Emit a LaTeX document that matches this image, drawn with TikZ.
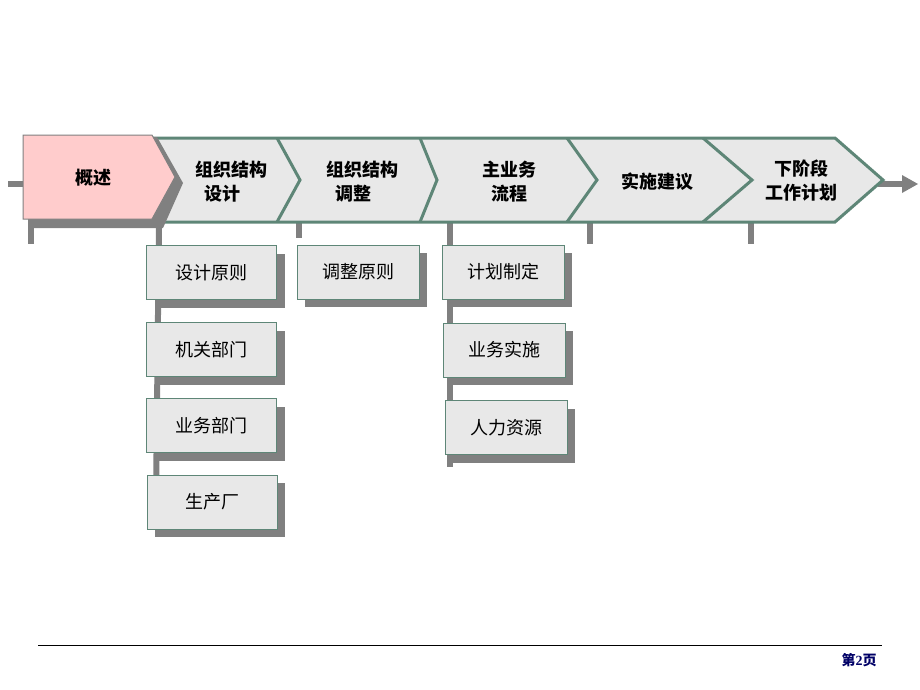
\documentclass[tikz,border=0pt]{standalone}
\usepackage{fontspec}
\setmainfont{Liberation Serif}
\newfontfamily\cjk{Noto Sans CJK SC}
\usetikzlibrary{calc,shadows}
\definecolor{bandfill}{HTML}{E8E8E8}
\definecolor{bandline}{HTML}{5E8677}
\definecolor{shadowgray}{HTML}{808080}
\definecolor{pinkfill}{HTML}{FFCCCC}
\definecolor{navy}{HTML}{000066}
\begin{document}
\begin{tikzpicture}[x=1pt,y=-1pt,
  tick/.style={draw=shadowgray, line width=6pt},
  bandstyle/.style={fill=bandfill, draw=bandline, line width=3pt, line join=miter},
  sepline/.style={draw=bandline, line width=3pt},
  headtext/.style={font=\cjk\bfseries\fontsize{18}{24}\selectfont, align=center, inner sep=0pt},
  subbox/.style={draw=bandline, line width=1pt, fill=bandfill, minimum width=130pt,
    minimum height=54pt, inner sep=0pt, font=\cjk\fontsize{18}{20}\selectfont,
    general shadow={fill=shadowgray, shadow xshift=8pt, shadow yshift=-8pt}},
  subboxb/.style={subbox, minimum width=122pt}]
\useasboundingbox (0,0) rectangle (920,690);

% named coordinates for axis and ticks
\coordinate (L0) at (8,184);
\coordinate (L1) at (24,184);
\coordinate (R0) at (878,184);
\coordinate (R1) at (903,184);
\coordinate (RH1) at (902,175);
\coordinate (RH2) at (918,184);
\coordinate (RH3) at (902,193);
\coordinate (T1a) at (299,222); \coordinate (T1b) at (299,238);
\coordinate (T2a) at (450,222); \coordinate (T2b) at (450,467);
\coordinate (T3a) at (590,222); \coordinate (T3b) at (590,244);
\coordinate (T4a) at (751,222); \coordinate (T4b) at (751,244);
\coordinate (C1a) at (31,222); \coordinate (C1b) at (31,244);
\coordinate (C2a) at (159,222); \coordinate (C2b) at (156,500);

% axis line and arrow
\draw[tick] (L0) -- (L1);
\draw[tick] (R0) -- (R1);
\fill[shadowgray] (RH1) -- (RH2) -- (RH3) -- cycle;

% ticks / column lines
\draw[tick] (T1a) -- (T1b);
\draw[tick] (T2a) -- (T2b);
\draw[tick] (T3a) -- (T3b);
\draw[tick] (T4a) -- (T4b);
\draw[tick] (C1a) -- (C1b);
\draw[tick] (C2a) -- (C2b);

% band
\path[bandstyle] (150,138) -- (835,138) -- (883,180) -- (835,222) -- (150,222) -- cycle;
\draw[sepline] (277,138) -- (300,180) -- (277,222);
\draw[sepline] (420,138) -- (437,180) -- (420,222);
\draw[sepline] (567,138) -- (597,180) -- (567,222);
\draw[sepline] (703,138) -- (752,180) -- (703,222);

% pink chevron with shadow
\fill[shadowgray] (28,140) -- (157,137) -- (183,183) -- (163,228) -- (28,228) -- cycle;
\path[fill=pinkfill, draw=shadowgray, line width=1pt] (23,135) -- (152,135) -- (175,177) -- (152,219) -- (23,219) -- cycle;

% header texts
\node[headtext] (h1) at (93,178) {概述};
\node[headtext] (h2) at (231,182) {组织结构\\设计\phantom{一}};
\node[headtext] (h3) at (362,182) {组织结构\\调整\phantom{一}};
\node[headtext] (h4) at (509,182) {主业务\\流程};
\node[headtext] (h5) at (657,182) {实施建议};
\node[headtext] (h6) at (801,181) {下阶段\\工作计划};

% sub boxes
\node[subbox] (b11) at (211.5,272.5) {设计原则};
\node[subbox] (b12) at (211.5,349.5) {机关部门};
\node[subbox] (b13) at (211.5,425.5) {业务部门};
\node[subbox] (b14) at (212,502) {生产厂};
\node[subboxb] (b21) at (358,272) {调整原则};
\node[subboxb] (b31) at (503,272) {计划制定};
\node[subboxb] (b32) at (504,350) {业务实施};
\node[subboxb] (b33) at (506,427.5) {人力资源};

% footer
\coordinate (F0) at (38,645);
\coordinate (F1) at (882,645);
\draw[black, line width=1pt] (F0) -- (F1);
\node[text=navy, font=\bfseries\fontsize{14}{16}\selectfont, inner sep=0pt] (pg) at (859,660) {{\cjk 第}2{\cjk 页}};
\end{tikzpicture}
\end{document}
